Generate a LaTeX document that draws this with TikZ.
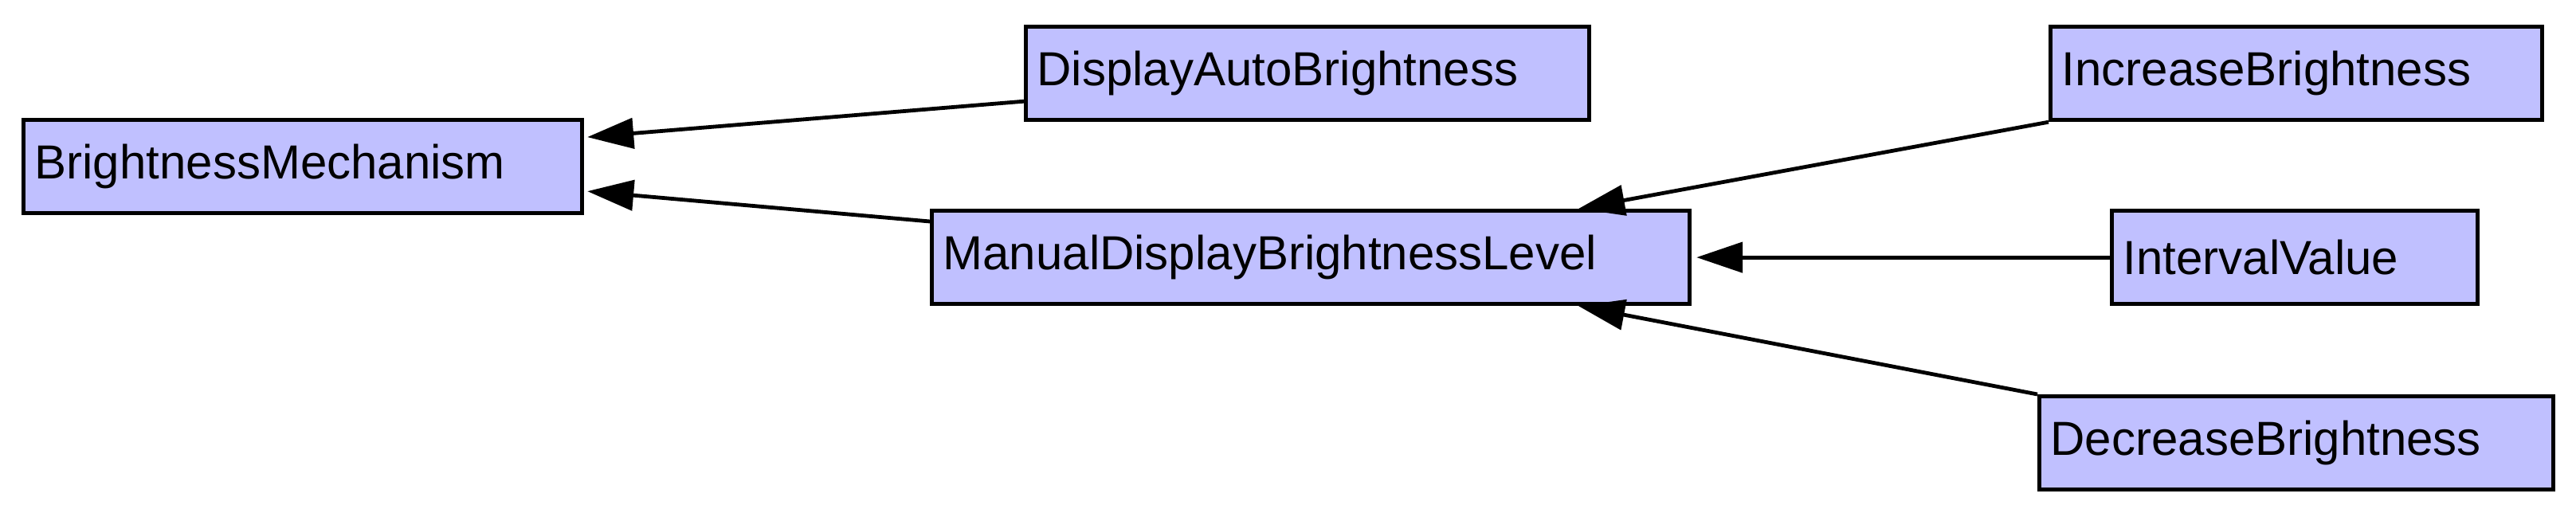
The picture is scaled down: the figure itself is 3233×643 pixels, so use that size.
\documentclass[tikz,border=0pt]{standalone}
\usepackage{fontspec}
\setmainfont{Liberation Sans}
\usetikzlibrary{arrows.meta}
\definecolor{clsfill}{RGB}{192,192,255}
\tikzset{
  cls/.style={draw, line width=1.3pt, fill=clsfill, minimum height=29.25pt, inner xsep=3.5pt,
    anchor=north west, align=left, font=\fontsize{15}{18}\selectfont},
  inh/.style={line width=1.2pt, -{Triangle[length=14.5pt,width=9.5pt]}}
}
\begin{document}
\begin{tikzpicture}[x=0.25pt,y=0.25pt,yscale=-1,xscale=1]
        \useasboundingbox (0,0) rectangle (3233,643);

        % Class Node
        \node [cls, text width=168.25pt] (bm) at (27,148) {BrightnessMechanism};
        % Class Node
        \node [cls, text width=169.75pt] (dab) at (1285,31) {DisplayAutoBrightness};
        % Class Node
        \node [cls, text width=230.75pt] (mdbl) at (1167,262) {ManualDisplayBrightnessLevel};
        % Class Node
        \node [cls, text width=147.25pt] (ib) at (2571,31) {IncreaseBrightness};
        % Class Node
        \node [cls, text width=107.75pt] (iv) at (2648,262) {IntervalValue};
        % Class Node
        \node [cls, text width=154.25pt] (db) at (2557,495) {DecreaseBrightness};

        % Generalisation
        \draw [inh] ([yshift=-6.5pt]dab.south west) -- ([xshift=1pt,yshift=-9.25pt]bm.east) ;
        % Generalisation
        \draw [inh] ([yshift=4pt]mdbl.north west) -- ([xshift=1pt,yshift=7.75pt]bm.east) ;
        % Generalisation
        \draw [inh] (ib.south west) -- ([xshift=84pt]mdbl.north) ;
        % Generalisation
        \draw [inh] (iv.west) -- ([xshift=1.5pt]mdbl.east) ;
        % Generalisation
        \draw [inh] (db.north west) -- ([xshift=84pt]mdbl.south) ;

    \end{tikzpicture}
\end{document}
